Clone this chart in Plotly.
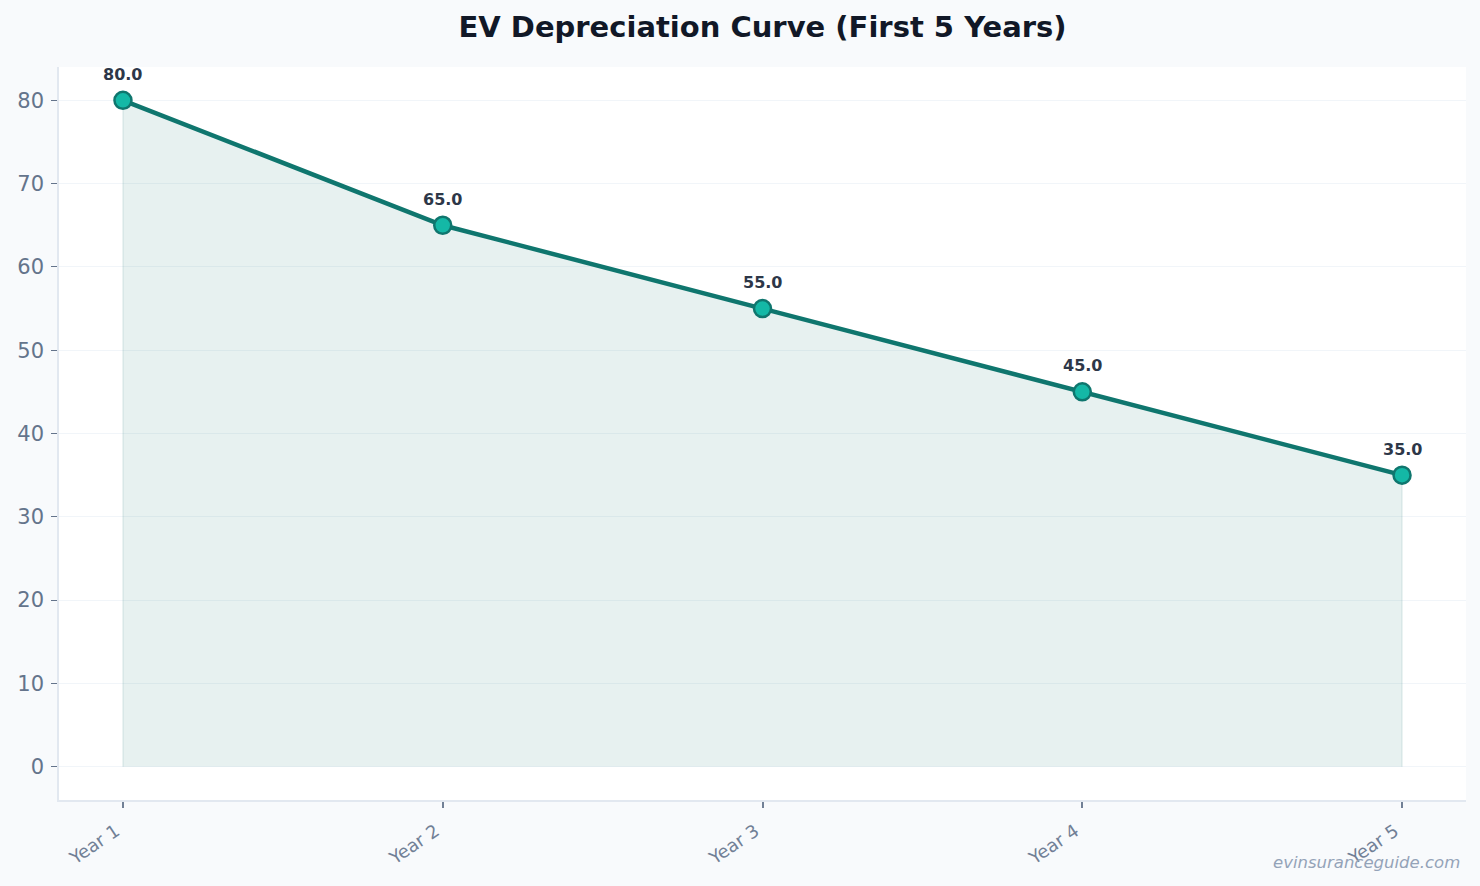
import plotly.graph_objects as go

years = ["Year 1", "Year 2", "Year 3", "Year 4", "Year 5"]
values = [80.0, 65.0, 55.0, 45.0, 35.0]
y_ticks = [0, 10, 20, 30, 40, 50, 60, 70, 80]

x_pos = list(range(len(years)))

fig = go.Figure()

# shaded area under the curve (with faint edges like fill_between)
fig.add_trace(go.Scatter(
    x=[x_pos[0]] + x_pos + [x_pos[-1]],
    y=[0] + values + [0],
    mode="lines",
    fill="toself",
    fillcolor="rgba(15,118,110,0.10)",
    line=dict(color="rgba(15,118,110,0.12)", width=1.2),
    hoverinfo="skip",
    showlegend=False,
))

fig.add_trace(go.Scatter(
    x=x_pos,
    y=values,
    mode="lines+markers",
    line=dict(color="#0f766e", width=4.5),
    marker=dict(size=17, color="#14b8a6", line=dict(color="#0f766e", width=2.5)),
    showlegend=False,
))

# value labels above the points
for xp, v in zip(x_pos, values):
    fig.add_annotation(
        x=xp, y=v, text="<b>{:.1f}</b>".format(v),
        showarrow=False, yshift=26,
        font=dict(family="DejaVu Sans", size=16, color="#2d3748"),
    )

fig.update_layout(
    width=1480,
    height=886,
    paper_bgcolor="#f8fafc",
    plot_bgcolor="#ffffff",
    font=dict(family="DejaVu Sans", color="#64748b"),
    margin=dict(l=59, r=14, t=67, b=86),
    title=dict(
        text="<b>EV Depreciation Curve (First 5 Years)</b>",
        x=0.5, xref="paper", y=0.9695, yref="container",
        xanchor="center", yanchor="middle",
        font=dict(family="DejaVu Sans", size=29, color="#111827"),
    ),
    xaxis=dict(
        range=[-0.2, 4.2],
        tickvals=x_pos,
        ticktext=years,
        tickangle=-34,
        tickfont=dict(size=18, color="#718096"),
        ticklabelshift=-7,
        ticklabelstandoff=6,
        showgrid=False,
        zeroline=False,
        showline=True,
        linecolor="#e2e8f0",
        linewidth=1.5,
        ticks="outside",
        tickcolor="#718096",
        ticklen=6,
        tickwidth=1.5,
    ),
    yaxis=dict(
        range=[-4, 84],
        tickvals=y_ticks,
        tickfont=dict(size=21, color="#64748b"),
        ticklabelstandoff=3,
        showgrid=True,
        gridcolor="#f1f5f9",
        zeroline=False,
        showline=True,
        linecolor="#e2e8f0",
        linewidth=1.5,
        ticks="outside",
        tickcolor="#64748b",
        ticklen=6,
        tickwidth=1.2,
    ),
)

fig.add_annotation(
    text="<i>evinsuranceguide.com</i>",
    xref="paper", yref="paper",
    x=0.997, y=-0.0846,
    xanchor="right", yanchor="middle",
    showarrow=False,
    font=dict(family="DejaVu Sans", size=16.5, color="#94a3b8"),
)

fig.write_html("out.html", config={"displayModeBar": False},
               post_script="document.body.style.margin='0';")
